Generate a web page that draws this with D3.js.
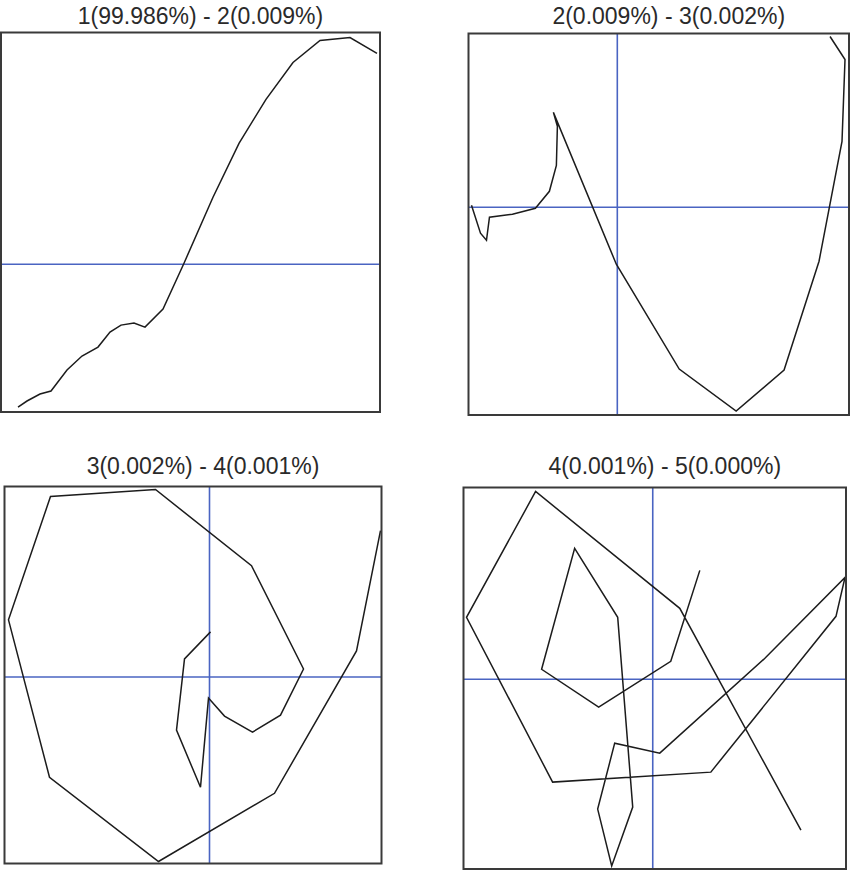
<!DOCTYPE html>
<html>
<head>
<meta charset="utf-8">
<script src="https://cdn.jsdelivr.net/npm/d3@7"></script>
<style>
  html, body { margin: 0; padding: 0; background: #fff; }
  svg { display: block; }
</style>
</head>
<body>
<svg id="chart" width="850" height="870"></svg>
<script>
// ---- Data (score units) ----
const titles = [
  "1(99.986%) - 2(0.009%)",
  "2(0.009%) - 3(0.002%)",
  "3(0.002%) - 4(0.001%)",
  "4(0.001%) - 5(0.000%)"
];

const p1x = [0.27, 0.36, 0.49, 0.60, 0.76, 0.91, 1.07, 1.19, 1.30, 1.43, 1.54, 1.72, 1.93, 2.22, 2.48, 2.75, 3.02, 3.29, 3.59, 3.86];
const p1y = [-1.43, -1.37, -1.30, -1.27, -1.06, -0.92, -0.83, -0.68, -0.61, -0.59, -0.63, -0.45, 0.01, 0.67, 1.21, 1.65, 2.02, 2.24, 2.27, 2.11];

const p2x = [-1.46, -1.37, -1.31, -1.28, -1.05, -0.82, -0.68, -0.61, -0.60, -0.64, -0.01, 0.62, 1.19, 1.67, 2.02, 2.25, 2.28, 2.13];
const p2y = [0.02, -0.26, -0.33, -0.10, -0.07, -0.01, 0.16, 0.42, 0.81, 0.95, -0.57, -1.62, -2.04, -1.63, -0.54, 0.66, 1.48, 1.71];

const p3x = [0.01, -0.25, -0.33, -0.09, -0.01, 0.15, 0.43, 0.71, 0.94, 0.42, -0.54, -1.59, -2.01, -1.60, -0.51, 0.65, 1.47, 1.71];
const p3y = [0.45, 0.18, -0.53, -1.10, -0.21, -0.39, -0.55, -0.38, 0.08, 1.11, 1.87, 1.80, 0.57, -1.00, -1.84, -1.16, 0.26, 1.46];

const p4x = [0.47, 0.18, -0.54, -1.11, -0.78, -0.35, -0.20, -0.41, -0.55, -0.38, 0.07, 1.12, 1.92, 1.83, 0.58, -1.00, -1.86, -1.17, 0.27, 1.48];
const p4y = [1.09, 0.18, -0.28, 0.10, 1.31, 0.62, -1.28, -1.87, -1.30, -0.64, -0.74, 0.21, 1.02, 0.63, -0.93, -1.03, 0.62, 1.88, 0.71, -1.51];

const xDomains = [[0.10, 3.89], [-1.49, 2.32], [-2.05, 1.72], [-1.89, 1.93]];
const yDomains = [[-1.48, 2.32], [-2.08, 1.74], [-1.86, 1.90], [-1.90, 1.92]];

// ---- Layout ----
const boxes = [
  {left: 1,     top: 32.5,  right: 380,   bottom: 412},
  {left: 468.5, top: 33.5,  right: 849,   bottom: 415},
  {left: 4.5,   top: 486.5, right: 381.5, bottom: 863.5},
  {left: 463.5, top: 487.5, right: 846,   bottom: 869}
];
const titleBaselines = [23.5, 23.5, 473.5, 473.5];

const xs = [p1x, p2x, p3x, p4x];
const ys = [p1y, p2y, p3y, p4y];

const svg = d3.select("#chart");

boxes.forEach((b, i) => {
  const x = d3.scaleLinear().domain(xDomains[i]).range([b.left, b.right]);
  const y = d3.scaleLinear().domain(yDomains[i]).range([b.bottom, b.top]);
  const g = svg.append("g");

  // Zero reference lines
  const [x0, x1] = xDomains[i];
  const [y0, y1] = yDomains[i];
  if (y0 < 0 && y1 > 0) {
    g.append("line")
      .attr("x1", b.left).attr("x2", b.right)
      .attr("y1", y(0)).attr("y2", y(0))
      .attr("stroke", "#4a64c2").attr("stroke-width", 1.6);
  }
  if (x0 < 0 && x1 > 0) {
    g.append("line")
      .attr("x1", x(0)).attr("x2", x(0))
      .attr("y1", b.top).attr("y2", b.bottom)
      .attr("stroke", "#4a64c2").attr("stroke-width", 1.6);
  }

  // Data line
  const pts = xs[i].map((v, k) => [v, ys[i][k]]);
  g.append("path")
    .datum(pts)
    .attr("fill", "none")
    .attr("stroke", "#1c1c1c")
    .attr("stroke-width", 1.5)
    .attr("stroke-linejoin", "miter")
    .attr("d", d3.line().x(d => x(d[0])).y(d => y(d[1])));

  // Frame
  g.append("rect")
    .attr("x", b.left).attr("y", b.top)
    .attr("width", b.right - b.left).attr("height", b.bottom - b.top)
    .attr("fill", "none")
    .attr("stroke", "#3a3a3a").attr("stroke-width", 2);

  // Title
  svg.append("text")
    .attr("x", (b.left + b.right) / 2 + 10)
    .attr("y", titleBaselines[i])
    .attr("text-anchor", "middle")
    .attr("font-family", "Liberation Sans, Arial, sans-serif")
    .attr("font-size", 23)
    .attr("fill", "#2a2a2a")
    .text(titles[i]);
});
</script>
</body>
</html>
